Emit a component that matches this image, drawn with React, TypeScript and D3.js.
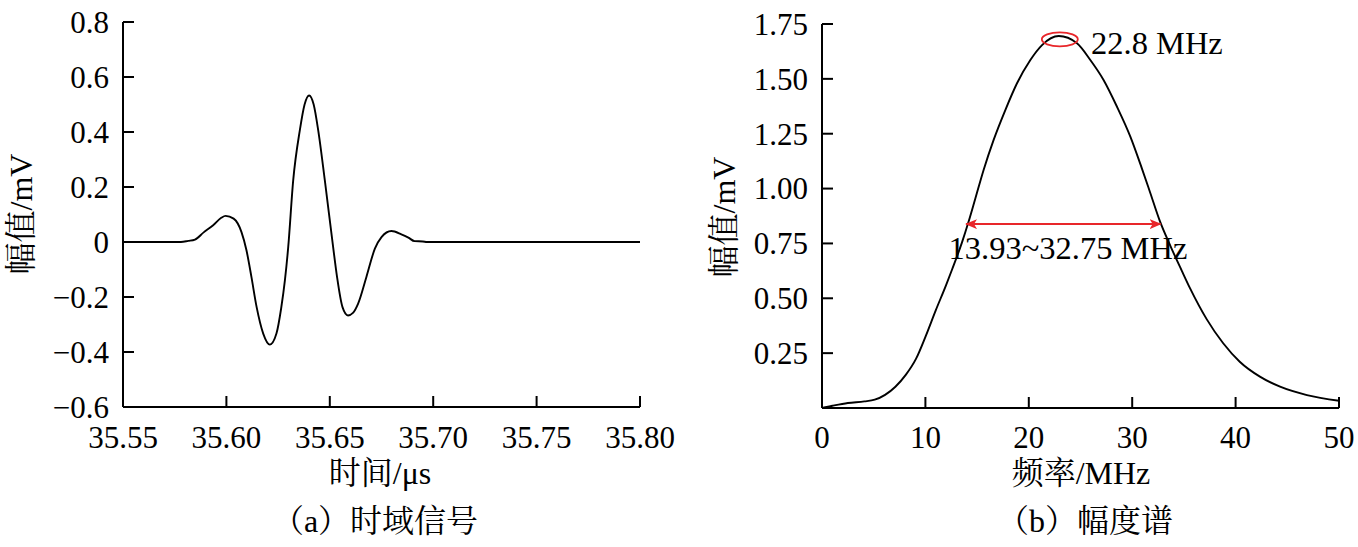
import React from "react";
import * as d3 from "d3";

// ---- Data: (a) time-domain signal ----
const timeUs = [
  35.55, 35.578, 35.5815, 35.5848, 35.589, 35.5936, 35.5975, 35.5996, 35.6035, 35.6073,
  35.6097, 35.6121, 35.6146, 35.6178, 35.621, 35.6242, 35.6265, 35.6283, 35.6299, 35.6323,
  35.6355, 35.6378, 35.64, 35.6422, 35.6444, 35.6476, 35.6516, 35.6535, 35.6561, 35.6588,
  35.6612, 35.6637, 35.6677, 35.6718, 35.675, 35.6798, 35.6846, 35.688, 35.691, 35.695,
  35.697, 35.8,
];
const amplitudeMv = [
  0, 0, 0.004, 0.009, 0.035, 0.061, 0.088, 0.095, 0.085, 0.036,
  -0.03, -0.127, -0.236, -0.333, -0.373, -0.333, -0.24, -0.139, -0.018, 0.224,
  0.406, 0.5, 0.533, 0.5, 0.406, 0.224, -0.018, -0.127, -0.236, -0.267,
  -0.258, -0.224, -0.127, -0.024, 0.018, 0.04, 0.028, 0.016, 0.003, 0.002,
  0, 0,
];
const timeTicks = [35.55, 35.6, 35.65, 35.7, 35.75, 35.8];
const timeTickLabels = ["35.55", "35.60", "35.65", "35.70", "35.75", "35.80"];
const ampTicks = [-0.6, -0.4, -0.2, 0, 0.2, 0.4, 0.6, 0.8];
const ampTickLabels = ["\u22120.6", "\u22120.4", "\u22120.2", "0", "0.2", "0.4", "0.6", "0.8"];

// ---- Data: (b) amplitude spectrum ----
const freqMHz = [
  0, 1, 2.5, 4.1, 5.1, 6.1, 7.1, 8.1, 9.1, 10.05, 11, 12, 12.57, 13.54, 14.18, 14.83,
  15.63, 16.6, 17.73, 18.86, 20.15, 21.28, 22.9, 24.66, 25.95, 27.23, 28.53, 29.82,
  30.95, 31.75, 32.65, 33.68, 34.8, 35.6, 37.2, 38.8, 40.4, 42.35, 44.3, 46.9, 50,
];
const spectrumMv = [
  0, 0.01, 0.023, 0.03, 0.038, 0.06, 0.097, 0.151, 0.225, 0.33, 0.445, 0.56, 0.63, 0.755,
  0.85, 0.955, 1.085, 1.222, 1.358, 1.48, 1.586, 1.654, 1.695, 1.662, 1.586, 1.495,
  1.373, 1.237, 1.09, 0.98, 0.855, 0.74, 0.625, 0.545, 0.405, 0.295, 0.211, 0.143,
  0.097, 0.059, 0.033,
];
const freqTicks = [0, 10, 20, 30, 40, 50];
const specTicks = [0.25, 0.5, 0.75, 1.0, 1.25, 1.5, 1.75];
const specTickLabels = ["0.25", "0.50", "0.75", "1.00", "1.25", "1.50", "1.75"];

// annotations
const peakFreq = 23.0;
const peakLevel = 1.68;
const peakLabel = "22.8 MHz";
const bandLow = 13.93;
const bandHigh = 32.75;
const bandLevel = 0.838;
const bandLabel = "13.93~32.75 MHz";

const FONT = "'Liberation Serif', 'Times New Roman', 'Noto Serif CJK SC', 'Noto Sans CJK SC', serif";
const FS = 31;
const TFS = 32;
const TICK = 11;

export default function App() {
  // scales (a)
  const xA = d3.scaleLinear().domain([35.55, 35.8]).range([123, 640]);
  const yA = d3.scaleLinear().domain([-0.6, 0.8]).range([407, 22]);
  // scales (b)
  const xB = d3.scaleLinear().domain([0, 50]).range([822, 1339]);
  const yB = d3.scaleLinear().domain([0, 1.75]).range([408, 24]);

  const lineA = d3
    .line<number>()
    .x((_, i) => xA(timeUs[i]))
    .y((d) => yA(d))
    .curve(d3.curveMonotoneX);
  const lineB = d3
    .line<number>()
    .x((_, i) => xB(freqMHz[i]))
    .y((d) => yB(d))
    .curve(d3.curveMonotoneX);

  const red = "#e8262a";

  return (
    <svg
      width={1358}
      height={547}
      style={{ position: "absolute", left: 0, top: 0, background: "#fff" }}
      fontFamily={FONT}
    >
      <defs>
        <marker id="arrowHead" viewBox="0 0 12 10" refX="11" refY="5" markerWidth="12" markerHeight="10" markerUnits="userSpaceOnUse" orient="auto-start-reverse">
          <path d="M0,0 L12,5 L0,10 L3,5 Z" fill={red} />
        </marker>
      </defs>

      {/* ---------- Panel (a) ---------- */}
      <g>
        <path d={lineA(amplitudeMv) || ""} fill="none" stroke="#000" strokeWidth={1.9} />
        <line x1={xA(35.55)} x2={xA(35.8)} y1={yA(-0.6)} y2={yA(-0.6)} stroke="#000" strokeWidth={2} />
        <line x1={xA(35.55)} x2={xA(35.55)} y1={yA(-0.6)} y2={yA(0.8)} stroke="#000" strokeWidth={2} />
        {ampTicks.map((t, i) => (
          <g key={"ya" + i}>
            <line x1={xA(35.55)} x2={xA(35.55) + TICK} y1={yA(t)} y2={yA(t)} stroke="#000" strokeWidth={2} />
            <text x={xA(35.55) - 14} y={yA(t)} dy="0.35em" textAnchor="end" fontSize={FS}>
              {ampTickLabels[i]}
            </text>
          </g>
        ))}
        {timeTicks.map((t, i) => (
          <g key={"xa" + i}>
            <line x1={xA(t)} x2={xA(t)} y1={yA(-0.6)} y2={yA(-0.6) - TICK} stroke="#000" strokeWidth={2} />
            <text x={xA(t)} y={448} textAnchor="middle" fontSize={FS}>
              {timeTickLabels[i]}
            </text>
          </g>
        ))}
        <text x={380} y={484} textAnchor="middle" fontSize={TFS}>时间/μs</text>
        <text x={375} y={532} textAnchor="middle" fontSize={TFS}>（a）时域信号</text>
        <text transform="translate(32,214) rotate(-90)" textAnchor="middle" fontSize={TFS}>幅值/mV</text>
      </g>

      {/* ---------- Panel (b) ---------- */}
      <g>
        <path d={lineB(spectrumMv) || ""} fill="none" stroke="#000" strokeWidth={1.9} />
        <line x1={xB(0)} x2={xB(50)} y1={yB(0)} y2={yB(0)} stroke="#000" strokeWidth={2} />
        <line x1={xB(0)} x2={xB(0)} y1={yB(0)} y2={yB(1.75)} stroke="#000" strokeWidth={2} />
        {specTicks.map((t, i) => (
          <g key={"yb" + i}>
            <line x1={xB(0)} x2={xB(0) + TICK} y1={yB(t)} y2={yB(t)} stroke="#000" strokeWidth={2} />
            <text x={xB(0) - 14} y={yB(t)} dy="0.35em" textAnchor="end" fontSize={FS}>
              {specTickLabels[i]}
            </text>
          </g>
        ))}
        {freqTicks.map((t, i) => (
          <g key={"xb" + i}>
            <line x1={xB(t)} x2={xB(t)} y1={yB(0)} y2={yB(0) - TICK} stroke="#000" strokeWidth={2} />
            <text x={xB(t)} y={448} textAnchor="middle" fontSize={FS}>
              {String(t)}
            </text>
          </g>
        ))}
        <text x={1081} y={484} textAnchor="middle" fontSize={TFS}>频率/MHz</text>
        <text x={1085} y={532} textAnchor="middle" fontSize={TFS}>（b）幅度谱</text>
        <text transform="translate(735,217) rotate(-90)" textAnchor="middle" fontSize={TFS}>幅值/mV</text>

        {/* annotations */}
        <ellipse cx={xB(peakFreq)} cy={yB(peakLevel)} rx={18} ry={7} fill="none" stroke={red} strokeWidth={1.8} />
        <text x={1091} y={54} fontSize={32.5}>{peakLabel}</text>
        <line
          x1={xB(bandLow)}
          x2={xB(bandHigh)}
          y1={yB(bandLevel)}
          y2={yB(bandLevel)}
          stroke={red}
          strokeWidth={2}
          markerStart="url(#arrowHead)"
          markerEnd="url(#arrowHead)"
        />
        <text x={1068} y={259} textAnchor="middle" fontSize={32.5}>
          {bandLabel}
        </text>
      </g>
    </svg>
  );
}
